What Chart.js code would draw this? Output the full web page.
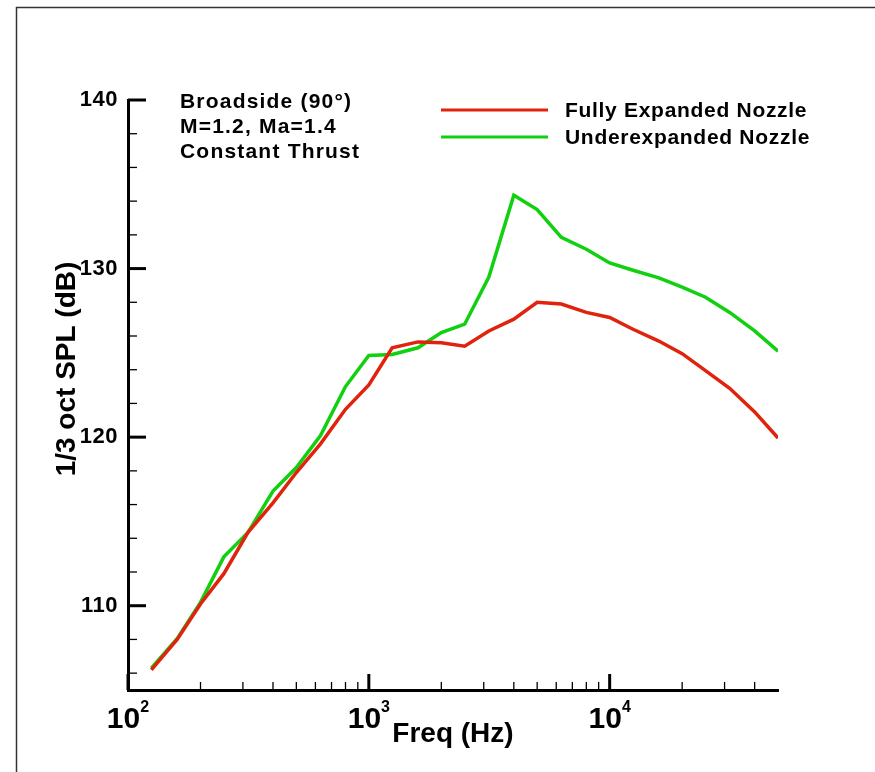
<!DOCTYPE html>
<html>
<head>
<meta charset="utf-8">
<script src="https://cdn.jsdelivr.net/npm/chart.js@4/dist/chart.umd.min.js"></script>
<style>
  html, body { margin: 0; padding: 0; background: #fff; }
  #wrap { width: 875px; height: 772px; }
</style>
</head>
<body>
<div id="wrap"><canvas id="chart" width="875" height="772"></canvas></div>
<script>
// 1/3 octave band centre frequencies (Hz)
const freqs = [125, 160, 200, 250, 315, 400, 500, 630, 800, 1000, 1250, 1600, 2000, 2500,
    3150, 4000, 5000, 6300, 8000, 10000, 12500, 16000, 20000, 25000, 31500, 40000, 50000];

const fullyExpanded = [106.2, 108.0, 110.1, 111.9, 114.35, 116.1, 117.9, 119.6, 121.65, 123.1,
    125.3, 125.65, 125.6, 125.4, 126.3, 127.0, 128.0, 127.9, 127.4, 127.1,
    126.4, 125.7, 124.95, 123.95, 122.9, 121.5, 119.95];

const underexpanded = [106.3, 108.05, 110.2, 112.9, 114.35, 116.8, 118.2, 120.1, 123.0, 124.85,
    124.9, 125.3, 126.2, 126.7, 129.5, 134.35, 133.5, 131.85, 131.15, 130.33,
    129.9, 129.45, 128.9, 128.3, 127.4, 126.3, 125.1];

const xTicks = [100, 1000, 10000];
const xTickExp = ['2', '3', '4'];
const yTicks = [110, 120, 130, 140];

const infoLines = ['Broadside (90°)', 'M=1.2, Ma=1.4', 'Constant Thrust'];

const FONT = '"Liberation Sans", Arial, sans-serif';

// frame, inside ticks, tick labels, titles, annotation and legend
const decorations = {
    id: 'decorations',
    afterDraw(chart) {
        const ctx = chart.ctx;
        const xs = chart.scales.x;
        const ys = chart.scales.y;
        const area = chart.chartArea;
        ctx.save();

        // page frame (top and left edges only visible)
        ctx.strokeStyle = '#333';
        ctx.lineWidth = 1.5;
        ctx.beginPath();
        ctx.moveTo(16.5, 772);
        ctx.lineTo(16.5, 7.5);
        ctx.lineTo(875, 7.5);
        ctx.stroke();

        ctx.strokeStyle = '#000';
        ctx.fillStyle = '#000';

        // x ticks (pointing inward)
        xTicks.forEach(d => {
            for (let k = 1; k <= 9; k++) {
                const v = d * k;
                if (v >= xs.max) break;
                const px = xs.getPixelForValue(v);
                const major = k === 1;
                ctx.lineWidth = major ? 3 : 1.3;
                ctx.beginPath();
                ctx.moveTo(px, area.bottom);
                ctx.lineTo(px, area.bottom - (major ? 16 : 8));
                ctx.stroke();
            }
        });
        // y ticks (pointing inward)
        for (let v = 106; v <= 140; v += 2) {
            const py = ys.getPixelForValue(v);
            const major = v % 10 === 0;
            ctx.lineWidth = major ? 3 : 1.3;
            ctx.beginPath();
            ctx.moveTo(area.left, py);
            ctx.lineTo(area.left + (major ? 18 : 9), py);
            ctx.stroke();
        }

        // y tick labels
        ctx.font = 'bold 22px ' + FONT;
        ctx.letterSpacing = '0.5px';
        ctx.textAlign = 'right';
        ctx.textBaseline = 'middle';
        yTicks.forEach(v => {
            ctx.fillText(String(v), area.left - 10, ys.getPixelForValue(v));
        });

        // x tick labels as 10^n, whole label centred on the tick
        ctx.letterSpacing = '0px';
        ctx.textBaseline = 'alphabetic';
        ctx.textAlign = 'left';
        xTicks.forEach((v, i) => {
            const px = xs.getPixelForValue(v);
            ctx.font = 'bold 30px ' + FONT;
            const w = ctx.measureText('10').width;
            ctx.font = 'bold 16px ' + FONT;
            const we = ctx.measureText(xTickExp[i]).width;
            const x0 = px - (w + we) / 2;
            ctx.font = 'bold 30px ' + FONT;
            ctx.fillText('10', x0, area.bottom + 38);
            ctx.font = 'bold 16px ' + FONT;
            ctx.fillText(xTickExp[i], x0 + w, area.bottom + 22);
        });

        // axis titles
        ctx.font = 'bold 28px ' + FONT;
        ctx.textAlign = 'center';
        ctx.fillText('Freq (Hz)', 453, 742);
        ctx.save();
        ctx.translate(75, 369);
        ctx.rotate(-Math.PI / 2);
        ctx.fillText('1/3 oct SPL (dB)', 0, 0);
        ctx.restore();

        // annotation
        ctx.font = 'bold 21px ' + FONT;
        ctx.letterSpacing = '1.2px';
        ctx.textAlign = 'left';
        infoLines.forEach((t, i) => ctx.fillText(t, 180, 108 + i * 25));

        // legend
        ctx.letterSpacing = '0.7px';
        chart.data.datasets.forEach((ds, i) => {
            const y = 110 + i * 27;
            ctx.strokeStyle = ds.borderColor;
            ctx.lineWidth = 3;
            ctx.beginPath();
            ctx.moveTo(441, y);
            ctx.lineTo(548, y);
            ctx.stroke();
            ctx.fillStyle = '#000';
            ctx.textBaseline = 'middle';
            ctx.fillText(ds.label, 565, y + 1);
        });
        ctx.restore();
    }
};

const chart = document.querySelector('#chart').getContext('2d');

new Chart(chart, {
    type: 'line',
    data: {
        datasets: [
            {
                label: 'Fully Expanded Nozzle',
                data: freqs.map((f, i) => ({ x: f, y: fullyExpanded[i] })),
                borderColor: '#e0230d',
                borderWidth: 3.5,
                pointRadius: 0,
                tension: 0
            },
            {
                label: 'Underexpanded Nozzle',
                data: freqs.map((f, i) => ({ x: f, y: underexpanded[i] })),
                borderColor: '#10d010',
                borderWidth: 3.5,
                pointRadius: 0,
                tension: 0
            }
        ]
    },
    options: {
        responsive: false,
        animation: false,
        layout: { padding: { top: 100, right: 97, left: 0, bottom: 0 } },
        plugins: { legend: { display: false }, tooltip: { enabled: false } },
        scales: {
            x: {
                type: 'logarithmic',
                min: 100,
                max: 50000,
                grid: { display: false, drawTicks: false },
                border: { display: true, width: 3, color: '#000' },
                ticks: { display: false },
                afterBuildTicks: s => { s.ticks = xTicks.map(v => ({ value: v })); },
                afterFit: s => { s.height = 82; }
            },
            y: {
                min: 105,
                max: 140,
                grid: { display: false, drawTicks: false },
                border: { display: true, width: 3, color: '#000' },
                ticks: { display: false },
                afterBuildTicks: s => { s.ticks = yTicks.map(v => ({ value: v })); },
                afterFit: s => { s.width = 128; }
            }
        }
    },
    plugins: [decorations]
});
</script>
</body>
</html>
